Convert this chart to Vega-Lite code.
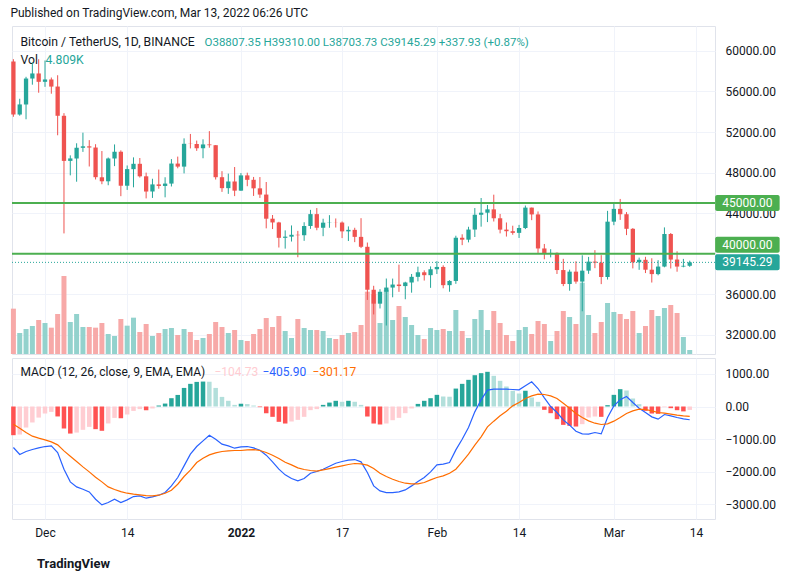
{
  "$schema": "https://vega.github.io/schema/vega-lite/v6.json",
  "background": "#ffffff",
  "padding": {"left": 10, "top": 6, "right": 4, "bottom": 4},
  "title": {
    "text": "Published on TradingView.com, Mar 13, 2022 06:26 UTC",
    "anchor": "start",
    "fontSize": 12,
    "fontWeight": "normal",
    "color": "#131722",
    "offset": 6
  },
  "datasets": {
    "btc": [
      {"d": "2021-11-26", "o": 58960, "h": 59183, "l": 53500, "c": 53727, "v": 54.4, "hist": -880, "macd": -1258, "sig": -542},
      {"d": "2021-11-27", "o": 53724, "h": 55280, "l": 53610, "c": 54721, "v": 25.2, "hist": -860, "macd": -1473, "sig": -665},
      {"d": "2021-11-28", "o": 54716, "h": 57445, "l": 53257, "c": 57275, "v": 30.0, "hist": -645, "macd": -1381, "sig": -798},
      {"d": "2021-11-29", "o": 57275, "h": 58866, "l": 56667, "c": 57776, "v": 33.6, "hist": -490, "macd": -1320, "sig": -910},
      {"d": "2021-11-30", "o": 57776, "h": 59177, "l": 55876, "c": 56951, "v": 40.8, "hist": -340, "macd": -1269, "sig": -972},
      {"d": "2021-12-01", "o": 56951, "h": 59054, "l": 56458, "c": 57184, "v": 37.2, "hist": -215, "macd": -1228, "sig": -1023},
      {"d": "2021-12-02", "o": 57184, "h": 57375, "l": 55778, "c": 56480, "v": 31.6, "hist": -165, "macd": -1207, "sig": -1084},
      {"d": "2021-12-03", "o": 56484, "h": 57600, "l": 51680, "c": 53601, "v": 48.0, "hist": -305, "macd": -1412, "sig": -1176},
      {"d": "2021-12-04", "o": 53601, "h": 53859, "l": 42000, "c": 49152, "v": 93.6, "hist": -675, "macd": -1923, "sig": -1361},
      {"d": "2021-12-05", "o": 49152, "h": 49699, "l": 47727, "c": 49396, "v": 38.4, "hist": -830, "macd": -2312, "sig": -1524},
      {"d": "2021-12-06", "o": 49396, "h": 50891, "l": 47100, "c": 50442, "v": 48.0, "hist": -800, "macd": -2465, "sig": -1688},
      {"d": "2021-12-07", "o": 50442, "h": 51936, "l": 50040, "c": 50589, "v": 32.4, "hist": -715, "macd": -2537, "sig": -1852},
      {"d": "2021-12-08", "o": 50589, "h": 51200, "l": 48600, "c": 50471, "v": 32.4, "hist": -625, "macd": -2619, "sig": -2005},
      {"d": "2021-12-09", "o": 50471, "h": 50798, "l": 47320, "c": 47546, "v": 31.6, "hist": -695, "macd": -2844, "sig": -2169},
      {"d": "2021-12-10", "o": 47536, "h": 50125, "l": 46852, "c": 47141, "v": 37.2, "hist": -745, "macd": -3018, "sig": -2312},
      {"d": "2021-12-11", "o": 47141, "h": 49486, "l": 46751, "c": 49390, "v": 24.0, "hist": -520, "macd": -2946, "sig": -2465},
      {"d": "2021-12-12", "o": 49390, "h": 50777, "l": 48638, "c": 50054, "v": 21.6, "hist": -350, "macd": -2844, "sig": -2547},
      {"d": "2021-12-13", "o": 50054, "h": 50190, "l": 45673, "c": 46703, "v": 42.0, "hist": -360, "macd": -2946, "sig": -2609},
      {"d": "2021-12-14", "o": 46703, "h": 48700, "l": 46290, "c": 48343, "v": 34.0, "hist": -245, "macd": -2864, "sig": -2660},
      {"d": "2021-12-15", "o": 48337, "h": 49500, "l": 46547, "c": 48865, "v": 43.6, "hist": -135, "macd": -2762, "sig": -2690},
      {"d": "2021-12-16", "o": 48865, "h": 49436, "l": 47511, "c": 47632, "v": 26.4, "hist": -80, "macd": -2742, "sig": -2711},
      {"d": "2021-12-17", "o": 47632, "h": 47996, "l": 45456, "c": 46131, "v": 36.0, "hist": -115, "macd": -2813, "sig": -2731},
      {"d": "2021-12-18", "o": 46134, "h": 47392, "l": 45500, "c": 46834, "v": 21.6, "hist": -60, "macd": -2772, "sig": -2742},
      {"d": "2021-12-19", "o": 46834, "h": 48300, "l": 46407, "c": 46681, "v": 25.2, "hist": 30, "macd": -2721, "sig": -2721},
      {"d": "2021-12-20", "o": 46681, "h": 47538, "l": 45559, "c": 46914, "v": 30.0, "hist": 90, "macd": -2639, "sig": -2660},
      {"d": "2021-12-21", "o": 46914, "h": 49329, "l": 46630, "c": 48890, "v": 31.2, "hist": 255, "macd": -2435, "sig": -2568},
      {"d": "2021-12-22", "o": 48888, "h": 49576, "l": 48422, "c": 48588, "v": 22.8, "hist": 355, "macd": -2179, "sig": -2384},
      {"d": "2021-12-23", "o": 48588, "h": 51375, "l": 47920, "c": 50839, "v": 30.0, "hist": 570, "macd": -1821, "sig": -2148},
      {"d": "2021-12-24", "o": 50839, "h": 51810, "l": 50384, "c": 50820, "v": 26.4, "hist": 695, "macd": -1463, "sig": -1954},
      {"d": "2021-12-25", "o": 50820, "h": 51156, "l": 50142, "c": 50400, "v": 16.8, "hist": 755, "macd": -1228, "sig": -1719},
      {"d": "2021-12-26", "o": 50400, "h": 51280, "l": 49412, "c": 50775, "v": 19.2, "hist": 765, "macd": -1054, "sig": -1586},
      {"d": "2021-12-27", "o": 50775, "h": 52088, "l": 50449, "c": 50701, "v": 24.0, "hist": 760, "macd": -880, "sig": -1483},
      {"d": "2021-12-28", "o": 50701, "h": 50704, "l": 47313, "c": 47544, "v": 38.4, "hist": 570, "macd": -1003, "sig": -1422},
      {"d": "2021-12-29", "o": 47544, "h": 48139, "l": 46097, "c": 46465, "v": 32.4, "hist": 295, "macd": -1156, "sig": -1381},
      {"d": "2021-12-30", "o": 46465, "h": 47900, "l": 45900, "c": 47121, "v": 25.2, "hist": 175, "macd": -1207, "sig": -1361},
      {"d": "2021-12-31", "o": 47121, "h": 48548, "l": 45678, "c": 46217, "v": 28.8, "hist": 50, "macd": -1279, "sig": -1350},
      {"d": "2022-01-01", "o": 46217, "h": 47955, "l": 46208, "c": 47723, "v": 16.8, "hist": 85, "macd": -1238, "sig": -1350},
      {"d": "2022-01-02", "o": 47723, "h": 47990, "l": 46654, "c": 47286, "v": 15.6, "hist": 75, "macd": -1228, "sig": -1330},
      {"d": "2022-01-03", "o": 47286, "h": 47570, "l": 45696, "c": 46446, "v": 24.0, "hist": 30, "macd": -1269, "sig": -1320},
      {"d": "2022-01-04", "o": 46446, "h": 47558, "l": 45500, "c": 45832, "v": 30.0, "hist": -20, "macd": -1340, "sig": -1350},
      {"d": "2022-01-05", "o": 45832, "h": 47070, "l": 42500, "c": 43451, "v": 43.2, "hist": -205, "macd": -1494, "sig": -1412},
      {"d": "2022-01-06", "o": 43451, "h": 43816, "l": 42431, "c": 43082, "v": 32.4, "hist": -317, "macd": -1698, "sig": -1494},
      {"d": "2022-01-07", "o": 43082, "h": 43146, "l": 40610, "c": 41566, "v": 45.6, "hist": -470, "macd": -1923, "sig": -1596},
      {"d": "2022-01-08", "o": 41566, "h": 42300, "l": 40501, "c": 41680, "v": 27.6, "hist": -522, "macd": -2097, "sig": -1708},
      {"d": "2022-01-09", "o": 41680, "h": 42787, "l": 41200, "c": 41865, "v": 19.2, "hist": -460, "macd": -2210, "sig": -1790},
      {"d": "2022-01-10", "o": 41865, "h": 42249, "l": 39650, "c": 41822, "v": 42.0, "hist": -410, "macd": -2281, "sig": -1882},
      {"d": "2022-01-11", "o": 41822, "h": 43100, "l": 41269, "c": 42729, "v": 31.2, "hist": -317, "macd": -2210, "sig": -1933},
      {"d": "2022-01-12", "o": 42729, "h": 44322, "l": 42450, "c": 43903, "v": 28.8, "hist": -112, "macd": -2046, "sig": -1964},
      {"d": "2022-01-13", "o": 43903, "h": 44500, "l": 42311, "c": 42560, "v": 28.8, "hist": -80, "macd": -1995, "sig": -1985},
      {"d": "2022-01-14", "o": 42558, "h": 43449, "l": 41726, "c": 43060, "v": 27.6, "hist": 50, "macd": -1923, "sig": -1944},
      {"d": "2022-01-15", "o": 43060, "h": 43800, "l": 42555, "c": 43084, "v": 19.2, "hist": 120, "macd": -1831, "sig": -1903},
      {"d": "2022-01-16", "o": 43084, "h": 43475, "l": 42582, "c": 43072, "v": 18.0, "hist": 175, "macd": -1739, "sig": -1862},
      {"d": "2022-01-17", "o": 43072, "h": 43176, "l": 41540, "c": 42202, "v": 22.8, "hist": 145, "macd": -1688, "sig": -1821},
      {"d": "2022-01-18", "o": 42202, "h": 42691, "l": 41250, "c": 42352, "v": 25.2, "hist": 175, "macd": -1647, "sig": -1780},
      {"d": "2022-01-19", "o": 42352, "h": 42559, "l": 41139, "c": 41660, "v": 26.4, "hist": 145, "macd": -1627, "sig": -1749},
      {"d": "2022-01-20", "o": 41660, "h": 43505, "l": 40553, "c": 40681, "v": 34.8, "hist": 50, "macd": -1698, "sig": -1760},
      {"d": "2022-01-21", "o": 40681, "h": 41100, "l": 35440, "c": 36445, "v": 74.8, "hist": -307, "macd": -2026, "sig": -1800},
      {"d": "2022-01-22", "o": 36445, "h": 36835, "l": 34008, "c": 35071, "v": 72.0, "hist": -522, "macd": -2435, "sig": -1903},
      {"d": "2022-01-23", "o": 35071, "h": 36499, "l": 34601, "c": 36245, "v": 37.2, "hist": -552, "macd": -2588, "sig": -2046},
      {"d": "2022-01-24", "o": 36245, "h": 37550, "l": 32917, "c": 36660, "v": 77.0, "hist": -522, "macd": -2639, "sig": -2148},
      {"d": "2022-01-25", "o": 36660, "h": 37545, "l": 35701, "c": 36958, "v": 40.8, "hist": -420, "macd": -2639, "sig": -2230},
      {"d": "2022-01-26", "o": 36958, "h": 38920, "l": 36235, "c": 36809, "v": 57.6, "hist": -348, "macd": -2619, "sig": -2302},
      {"d": "2022-01-27", "o": 36807, "h": 37234, "l": 35507, "c": 37160, "v": 44.4, "hist": -205, "macd": -2558, "sig": -2353},
      {"d": "2022-01-28", "o": 37160, "h": 38000, "l": 36155, "c": 37717, "v": 34.8, "hist": -60, "macd": -2435, "sig": -2373},
      {"d": "2022-01-29", "o": 37717, "h": 38721, "l": 37268, "c": 38167, "v": 22.8, "hist": 80, "macd": -2302, "sig": -2373},
      {"d": "2022-01-30", "o": 38167, "h": 38359, "l": 37352, "c": 37882, "v": 18.0, "hist": 175, "macd": -2179, "sig": -2332},
      {"d": "2022-01-31", "o": 37882, "h": 38744, "l": 36633, "c": 38467, "v": 31.2, "hist": 255, "macd": -2005, "sig": -2251},
      {"d": "2022-02-01", "o": 38467, "h": 39265, "l": 38000, "c": 38695, "v": 28.8, "hist": 358, "macd": -1790, "sig": -2179},
      {"d": "2022-02-02", "o": 38695, "h": 38856, "l": 36587, "c": 36896, "v": 30.0, "hist": 307, "macd": -1770, "sig": -2128},
      {"d": "2022-02-03", "o": 36896, "h": 37387, "l": 36250, "c": 37312, "v": 27.6, "hist": 300, "macd": -1719, "sig": -2046},
      {"d": "2022-02-04", "o": 37312, "h": 41772, "l": 37027, "c": 41574, "v": 52.8, "hist": 550, "macd": -1330, "sig": -1923},
      {"d": "2022-02-05", "o": 41572, "h": 41914, "l": 40843, "c": 41383, "v": 27.6, "hist": 695, "macd": -1003, "sig": -1698},
      {"d": "2022-02-06", "o": 41383, "h": 42656, "l": 41117, "c": 42381, "v": 19.2, "hist": 818, "macd": -644, "sig": -1463},
      {"d": "2022-02-07", "o": 42381, "h": 44501, "l": 41646, "c": 43840, "v": 42.0, "hist": 960, "macd": -164, "sig": -1187},
      {"d": "2022-02-08", "o": 43840, "h": 45492, "l": 42666, "c": 44043, "v": 52.8, "hist": 1023, "macd": 205, "sig": -931},
      {"d": "2022-02-09", "o": 44043, "h": 44799, "l": 43118, "c": 44373, "v": 28.8, "hist": 1064, "macd": 501, "sig": -624},
      {"d": "2022-02-10", "o": 44373, "h": 45821, "l": 43174, "c": 43495, "v": 51.6, "hist": 941, "macd": 532, "sig": -450},
      {"d": "2022-02-11", "o": 43495, "h": 43920, "l": 42005, "c": 42374, "v": 37.2, "hist": 788, "macd": 532, "sig": -286},
      {"d": "2022-02-12", "o": 42374, "h": 43079, "l": 41689, "c": 42218, "v": 22.8, "hist": 614, "macd": 532, "sig": -143},
      {"d": "2022-02-13", "o": 42218, "h": 42760, "l": 41870, "c": 42054, "v": 15.6, "hist": 481, "macd": 522, "sig": 20},
      {"d": "2022-02-14", "o": 42054, "h": 42842, "l": 41551, "c": 42536, "v": 28.8, "hist": 399, "macd": 512, "sig": 123},
      {"d": "2022-02-15", "o": 42536, "h": 44751, "l": 42427, "c": 44545, "v": 32.4, "hist": 481, "macd": 634, "sig": 246},
      {"d": "2022-02-16", "o": 44545, "h": 44550, "l": 43307, "c": 43874, "v": 24.0, "hist": 276, "macd": 757, "sig": 327},
      {"d": "2022-02-17", "o": 43874, "h": 44165, "l": 40073, "c": 40516, "v": 39.6, "hist": 143, "macd": 552, "sig": 379},
      {"d": "2022-02-18", "o": 40516, "h": 40960, "l": 39450, "c": 39974, "v": 36.0, "hist": -102, "macd": 266, "sig": 368},
      {"d": "2022-02-19", "o": 39974, "h": 40444, "l": 39639, "c": 40079, "v": 15.6, "hist": -205, "macd": 0, "sig": 327},
      {"d": "2022-02-20", "o": 40079, "h": 40125, "l": 38000, "c": 38387, "v": 27.6, "hist": -389, "macd": -184, "sig": 246},
      {"d": "2022-02-21", "o": 38387, "h": 39494, "l": 36800, "c": 37008, "v": 51.6, "hist": -563, "macd": -409, "sig": 102},
      {"d": "2022-02-22", "o": 37008, "h": 38429, "l": 36350, "c": 38230, "v": 44.4, "hist": -593, "macd": -573, "sig": -51},
      {"d": "2022-02-23", "o": 38230, "h": 39250, "l": 37037, "c": 37250, "v": 36.0, "hist": -614, "macd": -757, "sig": -215},
      {"d": "2022-02-24", "o": 37250, "h": 39843, "l": 34322, "c": 38327, "v": 85.6, "hist": -542, "macd": -839, "sig": -338},
      {"d": "2022-02-25", "o": 38329, "h": 39684, "l": 38014, "c": 39219, "v": 46.8, "hist": -338, "macd": -849, "sig": -440},
      {"d": "2022-02-26", "o": 39219, "h": 40348, "l": 38573, "c": 39117, "v": 25.2, "hist": -307, "macd": -798, "sig": -512},
      {"d": "2022-02-27", "o": 39117, "h": 39856, "l": 37000, "c": 37699, "v": 38.4, "hist": -317, "macd": -839, "sig": -552},
      {"d": "2022-02-28", "o": 37699, "h": 44226, "l": 37450, "c": 43160, "v": 61.2, "hist": 41, "macd": -338, "sig": -532},
      {"d": "2022-03-01", "o": 43160, "h": 44949, "l": 42810, "c": 44421, "v": 50.4, "hist": 358, "macd": 20, "sig": -450},
      {"d": "2022-03-02", "o": 44421, "h": 45400, "l": 43334, "c": 43893, "v": 48.0, "hist": 532, "macd": 205, "sig": -338},
      {"d": "2022-03-03", "o": 43893, "h": 44101, "l": 41832, "c": 42454, "v": 42.0, "hist": 491, "macd": 307, "sig": -215},
      {"d": "2022-03-04", "o": 42454, "h": 42527, "l": 38550, "c": 39149, "v": 51.6, "hist": 246, "macd": 123, "sig": -133},
      {"d": "2022-03-05", "o": 39149, "h": 39613, "l": 38408, "c": 39398, "v": 25.2, "hist": 72, "macd": -51, "sig": -82},
      {"d": "2022-03-06", "o": 39398, "h": 39694, "l": 38089, "c": 38421, "v": 33.6, "hist": -133, "macd": -184, "sig": -92},
      {"d": "2022-03-07", "o": 38421, "h": 39548, "l": 37155, "c": 37988, "v": 52.8, "hist": -215, "macd": -317, "sig": -133},
      {"d": "2022-03-08", "o": 37988, "h": 39362, "l": 37868, "c": 38731, "v": 45.6, "hist": -225, "macd": -389, "sig": -184},
      {"d": "2022-03-09", "o": 38731, "h": 42594, "l": 38656, "c": 41942, "v": 55.2, "hist": -20, "macd": -246, "sig": -205},
      {"d": "2022-03-10", "o": 41942, "h": 42040, "l": 38540, "c": 39422, "v": 58.8, "hist": -51, "macd": -286, "sig": -235},
      {"d": "2022-03-11", "o": 39422, "h": 40236, "l": 38224, "c": 38730, "v": 49.2, "hist": -113, "macd": -338, "sig": -266},
      {"d": "2022-03-12", "o": 38730, "h": 39487, "l": 38661, "c": 38807, "v": 20.4, "hist": -150, "macd": -379, "sig": -286},
      {"d": "2022-03-13", "o": 38807.35, "h": 39310, "l": 38703.73, "c": 39145.29, "v": 4.809, "hist": -104.73, "macd": -405.9, "sig": -301.17}
    ]
  },
  "spacing": 2,
  "vconcat": [
    {
      "width": 703,
      "height": 328,
      "data": {"name": "btc"},
      "layer": [
        {
          "mark": {"type": "bar", "width": 5},
          "encoding": {
            "x": {
              "field": "d",
              "type": "temporal",
              "scale": {"type": "utc", "nice": false, "padding": 0, "domain": [{"year": 2021, "month": 11, "date": 25, "hours": 18, "minutes": 40, "utc": true}, {"year": 2022, "month": 3, "date": 17, "utc": true}]},
              "axis": {
                "orient": "bottom",
                "values": [
                  {"year": 2021, "month": 12, "date": 1, "utc": true},
                  {"year": 2021, "month": 12, "date": 14, "utc": true},
                  {"year": 2022, "month": 1, "date": 1, "utc": true},
                  {"year": 2022, "month": 1, "date": 17, "utc": true},
                  {"year": 2022, "month": 2, "date": 1, "utc": true},
                  {"year": 2022, "month": 2, "date": 14, "utc": true},
                  {"year": 2022, "month": 3, "date": 1, "utc": true},
                  {"year": 2022, "month": 3, "date": 14, "utc": true}
                ],
                "labels": false,
                "grid": true,
                "title": "O38807.35 H39310.00 L38703.73 C39145.29 +337.93 (+0.87%)",
                "titleX": 192,
                "titleY": -308.5,
                "titleAlign": "left",
                "titleBaseline": "alphabetic",
                "titleColor": "#26A69A",
                "titleFontSize": 11.5
              }
            },
            "y": {
              "field": "v",
              "type": "quantitative",
              "scale": {"domain": [0, 393.6], "nice": false},
              "axis": {
                "orient": "left",
                "labels": false,
                "grid": false,
                "title": "4.809K",
                "titleX": 33,
                "titleY": 37,
                "titleAngle": 0,
                "titleAlign": "left",
                "titleBaseline": "alphabetic",
                "titleColor": "#26A69A",
                "titleFontSize": 12.2
              }
            },
            "color": {"condition": {"test": "datum.c >= datum.o", "value": "#93D2CD"}, "value": "#F7A9A8"}
          }
        },
        {
          "layer": [
            {
              "mark": {"type": "rule", "strokeWidth": 1},
              "encoding": {
                "x": {"field": "d", "type": "temporal"},
                "y": {
                  "field": "l",
                  "type": "quantitative",
                  "scale": {"domain": [30108, 62456], "nice": false, "zero": false},
                  "axis": {
                    "orient": "right",
                    "values": [32000, 36000, 44000, 48000, 52000, 56000, 60000],
                    "format": ".2f",
                    "grid": true,
                    "labelPadding": 10,
                    "title": ["Bitcoin / TetherUS, 1D, BINANCE", "Vol"],
                    "titleX": -695,
                    "titleY": 19.5,
                    "titleAngle": 0,
                    "titleAlign": "left",
                    "titleBaseline": "alphabetic",
                    "titleLineHeight": 17.5,
                    "titleColor": "#131722",
                    "titleFontSize": 12.2
                  }
                },
                "y2": {"field": "h"},
                "color": {"condition": {"test": "datum.c >= datum.o", "value": "#26A69A"}, "value": "#EF5350"}
              }
            },
            {
              "mark": {"type": "bar", "width": 4.3},
              "encoding": {
                "x": {"field": "d", "type": "temporal"},
                "y": {"field": "o", "type": "quantitative", "scale": {"domain": [30108, 62456], "nice": false, "zero": false}},
                "y2": {"field": "c"},
                "color": {"condition": {"test": "datum.c >= datum.o", "value": "#26A69A"}, "value": "#EF5350"}
              }
            },
            {
              "data": {"values": [{"level": 45000}, {"level": 40000}]},
              "mark": {"type": "rule", "color": "#4CAF50", "strokeWidth": 2},
              "encoding": {"y": {"field": "level", "type": "quantitative"}}
            },
            {
              "data": {"values": [{"level": 39145.29}]},
              "mark": {"type": "rule", "color": "#26A69A", "strokeWidth": 1, "strokeDash": [1, 2]},
              "encoding": {"y": {"field": "level", "type": "quantitative"}}
            },
            {
              "data": {"values": [{"level": 45000, "label": "45000.00"}]},
              "layer": [
                {
                  "mark": {"type": "tick", "orient": "horizontal", "size": 64.5, "thickness": 16, "color": "#4CAF50", "opacity": 1, "cornerRadius": 2},
                  "encoding": {
                    "x": {"datum": {"year": 2022, "month": 3, "date": 22, "hours": 3, "utc": true}, "type": "temporal"},
                    "y": {"field": "level", "type": "quantitative"}
                  }
                },
                {
                  "mark": {"type": "text", "color": "#ffffff", "fontSize": 12, "align": "center", "baseline": "middle"},
                  "encoding": {
                    "x": {"datum": {"year": 2022, "month": 3, "date": 22, "hours": 3, "utc": true}, "type": "temporal"},
                    "y": {"field": "level", "type": "quantitative"},
                    "text": {"field": "label"}
                  }
                }
              ]
            },
            {
              "data": {"values": [{"level": 40000, "label": "40000.00"}]},
              "layer": [
                {
                  "mark": {"type": "tick", "orient": "horizontal", "size": 64.5, "thickness": 16, "color": "#4CAF50", "opacity": 1, "cornerRadius": 2, "yOffset": -9},
                  "encoding": {
                    "x": {"datum": {"year": 2022, "month": 3, "date": 22, "hours": 3, "utc": true}, "type": "temporal"},
                    "y": {"field": "level", "type": "quantitative"}
                  }
                },
                {
                  "mark": {"type": "text", "color": "#ffffff", "fontSize": 12, "align": "center", "baseline": "middle", "yOffset": -9},
                  "encoding": {
                    "x": {"datum": {"year": 2022, "month": 3, "date": 22, "hours": 3, "utc": true}, "type": "temporal"},
                    "y": {"field": "level", "type": "quantitative"},
                    "text": {"field": "label"}
                  }
                }
              ]
            },
            {
              "data": {"values": [{"level": 39145.29, "label": "39145.29"}]},
              "layer": [
                {
                  "mark": {"type": "tick", "orient": "horizontal", "size": 64.5, "thickness": 16, "color": "#26A69A", "opacity": 1, "cornerRadius": 2},
                  "encoding": {
                    "x": {"datum": {"year": 2022, "month": 3, "date": 22, "hours": 3, "utc": true}, "type": "temporal"},
                    "y": {"field": "level", "type": "quantitative"}
                  }
                },
                {
                  "mark": {"type": "text", "color": "#ffffff", "fontSize": 12, "align": "center", "baseline": "middle"},
                  "encoding": {
                    "x": {"datum": {"year": 2022, "month": 3, "date": 22, "hours": 3, "utc": true}, "type": "temporal"},
                    "y": {"field": "level", "type": "quantitative"},
                    "text": {"field": "label"}
                  }
                }
              ]
            }
          ]
        }
      ],
      "resolve": {"scale": {"y": "independent"}, "axis": {"y": "independent"}}
    },
    {
      "width": 703,
      "height": 161,
      "title": {
        "text": "TradingView",
        "orient": "bottom",
        "anchor": "start",
        "frame": "group",
        "offset": 20,
        "dx": 25,
        "fontSize": 13,
        "fontWeight": "bold",
        "color": "#131722"
      },
      "data": {"name": "btc"},
      "transform": [
        {"window": [{"op": "lag", "field": "hist", "as": "prev"}], "sort": [{"field": "d"}]}
      ],
      "layer": [
        {
          "mark": {"type": "bar", "width": 4.5},
          "encoding": {
            "x": {
              "field": "d",
              "type": "temporal",
              "scale": {"type": "utc", "nice": false, "padding": 0, "domain": [{"year": 2021, "month": 11, "date": 25, "hours": 18, "minutes": 40, "utc": true}, {"year": 2022, "month": 3, "date": 17, "utc": true}]},
              "axis": {
                "orient": "bottom",
                "values": [
                  {"year": 2021, "month": 12, "date": 1, "utc": true},
                  {"year": 2021, "month": 12, "date": 14, "utc": true},
                  {"year": 2022, "month": 1, "date": 1, "utc": true},
                  {"year": 2022, "month": 1, "date": 17, "utc": true},
                  {"year": 2022, "month": 2, "date": 1, "utc": true},
                  {"year": 2022, "month": 2, "date": 14, "utc": true},
                  {"year": 2022, "month": 3, "date": 1, "utc": true},
                  {"year": 2022, "month": 3, "date": 14, "utc": true}
                ],
                "labelExpr": "utcdate(datum.value) == 1 ? (utcmonth(datum.value) == 0 ? utcFormat(datum.value, '%Y') : utcFormat(datum.value, '%b')) : utcFormat(datum.value, '%d')",
                "labelFontWeight": {"condition": {"test": "utcdate(datum.value) == 1 && utcmonth(datum.value) == 0", "value": "bold"}, "value": "normal"},
                "labelPadding": 8,
                "grid": true,
                "title": "MACD (12, 26, close, 9, EMA, EMA)",
                "titleX": 8,
                "titleY": -143.5,
                "titleAlign": "left",
                "titleBaseline": "alphabetic",
                "titleColor": "#131722",
                "titleFontSize": 12
              }
            },
            "y": {
              "field": "hist",
              "type": "quantitative",
              "scale": {"domain": [-3451, 1488], "nice": false},
              "axis": {
                "orient": "right",
                "values": [-3000, -2000, -1000, 0, 1000],
                "format": ".2f",
                "grid": true,
                "labelPadding": 10,
                "title": "−104.73",
                "titleX": -501,
                "titleY": 17.5,
                "titleAngle": 0,
                "titleAlign": "left",
                "titleBaseline": "alphabetic",
                "titleColor": "#FFCDD2",
                "titleFontSize": 12
              }
            },
            "color": {
              "condition": [
                {"test": "datum.hist >= 0 && datum.prev != null && datum.prev < datum.hist", "value": "#26A69A"},
                {"test": "datum.hist >= 0", "value": "#B2DFDB"},
                {"test": "datum.prev != null && datum.prev < datum.hist", "value": "#FFCDD2"}
              ],
              "value": "#FF5252"
            }
          }
        },
        {
          "mark": {"type": "line", "color": "#2962FF", "strokeWidth": 1.2},
          "encoding": {
            "x": {"field": "d", "type": "temporal"},
            "y": {
              "field": "macd",
              "type": "quantitative",
              "scale": {"domain": [-3451, 1488], "nice": false},
              "axis": {
                "orient": "right",
                "labels": false,
                "grid": false,
                "title": "−405.90",
                "titleX": -453,
                "titleY": 17.5,
                "titleAngle": 0,
                "titleAlign": "left",
                "titleBaseline": "alphabetic",
                "titleColor": "#2962FF",
                "titleFontSize": 12
              }
            }
          }
        },
        {
          "mark": {"type": "line", "color": "#FF6D00", "strokeWidth": 1.2},
          "encoding": {
            "x": {"field": "d", "type": "temporal"},
            "y": {
              "field": "sig",
              "type": "quantitative",
              "scale": {"domain": [-3451, 1488], "nice": false},
              "axis": {
                "orient": "right",
                "labels": false,
                "grid": false,
                "title": "−301.17",
                "titleX": -403,
                "titleY": 17.5,
                "titleAngle": 0,
                "titleAlign": "left",
                "titleBaseline": "alphabetic",
                "titleColor": "#FF6D00",
                "titleFontSize": 12
              }
            }
          }
        }
      ],
      "resolve": {"scale": {"y": "independent"}, "axis": {"y": "independent"}}
    }
  ],
  "config": {
    "font": "Roboto",
    "view": {"stroke": "#E0E3EB"},
    "axis": {
      "labelFont": "Roboto",
      "titleFont": "Roboto",
      "labelFontSize": 12,
      "labelColor": "#131722",
      "titleFontWeight": "normal",
      "ticks": false,
      "domain": false,
      "gridColor": "#F0F3FA",
      "gridWidth": 1
    },
    "title": {"font": "Roboto"}
  }
}
